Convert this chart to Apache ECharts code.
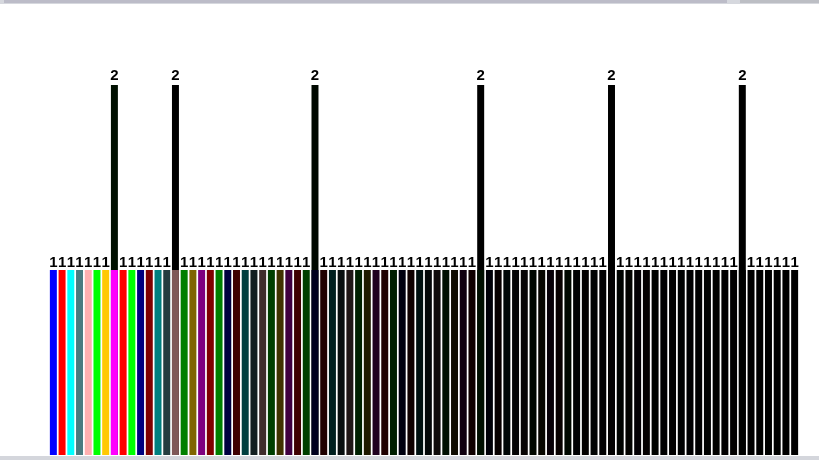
<!DOCTYPE html>
<html>
<head>
<meta charset="utf-8">
<style>
  html, body { margin: 0; padding: 0; background: #ffffff; }
  #chart { width: 819px; height: 460px; }
</style>
<script src="https://cdn.jsdelivr.net/npm/echarts@6/dist/echarts.min.js"></script>
</head>
<body>
<div id="chart"></div>
<script>
// ---- data ----
const categories = [];
for (let i = 1; i <= 86; i++) categories.push('C' + i);

const baseValues = [
  1,1,1,1,1,1,1,1,1,1,
  1,1,1,1,1,1,1,1,1,1,
  1,1,1,1,1,1,1,1,1,1,
  1,1,1,1,1,1,1,1,1,1,
  1,1,1,1,1,1,1,1,1,1,
  1,1,1,1,1,1,1,1,1,1,
  1,1,1,1,1,1,1,1,1,1,
  1,1,1,1,1,1,1,1,1,1,
  1,1,1,1,1,1
];

const peakValues = [
  null,null,null,null,null,null,null,2,null,null,
  null,null,null,null,2,null,null,null,null,null,
  null,null,null,null,null,null,null,null,null,null,
  2,null,null,null,null,null,null,null,null,null,
  null,null,null,null,null,null,null,null,null,2,
  null,null,null,null,null,null,null,null,null,null,
  null,null,null,null,2,null,null,null,null,null,
  null,null,null,null,null,null,null,null,null,2,
  null,null,null,null,null,null
];

// ---- styles ----
const baseColors = ['#0000ff','#ff0000','#00ffff','#4a7b80','#ffb0b0',
                    '#00ff00','#ffc800','#ff00ff','#ff0000','#00ff00'];
function halve(hex) {
  const n = parseInt(hex.slice(1), 16);
  const r = (n >> 16) & 255, g = (n >> 8) & 255, b = n & 255;
  const h = v => Math.floor(v / 2).toString(16).padStart(2, '0');
  return '#' + h(r) + h(g) + h(b);
}
const palette = [];
for (let i = 0; i < categories.length; i++) {
  palette.push(i < 10 ? baseColors[i] : halve(palette[i - 10]));
}
const peakColors = ['#001000', '#000000', '#000800', '#000000', '#000000', '#000000'];

const peakData = [];
let pk = 0;
peakValues.forEach((v, i) => {
  if (v == null) { peakData.push('-'); }
  else { peakData.push({ value: v, itemStyle: { color: peakColors[pk++] || '#000' } }); }
});
const baseData = baseValues.map((v, i) => ({
  value: v,
  itemStyle: { color: palette[i] },
  label: { show: peakValues[i] == null }
}));

const labelFont = {
  color: '#000',
  fontFamily: '"Liberation Sans", Arial, sans-serif',
  fontWeight: 'bold',
  fontSize: 15
};

const chart = echarts.init(document.getElementById('chart'), null, { renderer: 'canvas' });
chart.setOption({
  animation: false,
  backgroundColor: '#ffffff',
  grid: { left: 49, right: 20, top: 85, bottom: 5, containLabel: false },
  xAxis: {
    type: 'category',
    data: categories,
    show: false
  },
  yAxis: {
    type: 'value',
    min: 0,
    max: 2,
    show: false
  },
  series: [
    {
      type: 'bar',
      data: peakData,
      barGap: '-100%',
      barCategoryGap: '20%',
      label: Object.assign({ show: true, position: 'top', distance: 2 }, labelFont)
    },
    {
      type: 'bar',
      data: baseData,
      barGap: '-100%',
      barCategoryGap: '20%',
      label: Object.assign({ position: 'top', distance: 0 }, labelFont)
    }
  ],
  graphic: [
    { type: 'rect', shape: { x: 0, y: 0, width: 819, height: 4 }, style: { fill: '#d6d8de' }, silent: true },
    { type: 'rect', shape: { x: 4, y: 0, width: 723, height: 3 }, style: { fill: '#bcbcc8' }, silent: true },
    { type: 'rect', shape: { x: 740, y: 0, width: 79, height: 3 }, style: { fill: '#bcbec4' }, silent: true },
    { type: 'rect', shape: { x: 0, y: 456, width: 819, height: 4 }, style: { fill: '#d4d6dc' }, silent: true }
  ]
});
</script>
</body>
</html>
